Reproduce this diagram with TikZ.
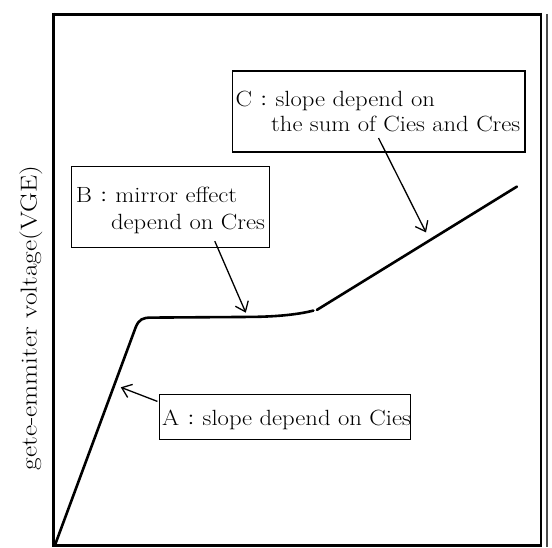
\documentclass[tikz,border=0pt]{standalone}
\usepackage{fontspec}
\newfontfamily\cjk{Noto Sans CJK JP}
\usetikzlibrary{arrows.meta}
\newcommand{\fwc}{\makebox[0.95em][c]{\cjk\fontsize{15}{15}\selectfont ：}}
\newcommand{\wtext}[1]{\scalebox{1.12}[1]{#1}}
\tikzset{
  txt/.style={anchor=base west, inner sep=0pt, font=\fontsize{22}{24}\selectfont},
  curve/.style={line width=2.6pt, line cap=round},
  pointer/.style={line width=1.3pt, -{Straight Barb[length=9pt,width=14pt,line width=1.3pt]}},
}
\begin{document}
\begin{tikzpicture}[x=1pt,y=-1pt]
\useasboundingbox (0,0) rectangle (552,547);
% frame
\draw[line width=3pt] (53,14) -- (541.5,14);
\draw[line width=3.5pt] (53.5,12.5) -- (53.5,546);
\draw[line width=3pt] (52,545.5) -- (541.5,545.5);
\draw[line width=2.5pt] (541,12.5) -- (541,547);
\draw[line width=1.2pt, black!70] (547,14) -- (547,547);
% boxes
\draw[line width=1.3pt] (71.8,166.5) rectangle (269.7,247.5);
\draw[line width=1.3pt] (232.7,71.1) rectangle (525,152.1);
\draw[line width=1.3pt] (159.5,394.4) rectangle (410.2,439.4);
\coordinate (bA) at (157.4,401.4);
\coordinate (bB) at (214.8,241.2);
\coordinate (bC) at (378.5,138);
% texts
\node[txt] (tB1) at (75.7,202) {\wtext{B\fwc mirror effect}};
\node[txt] (tB2) at (110.9,229) {\wtext{depend on Cres}};
\node[txt] (tC1) at (235.5,106) {\wtext{C\fwc slope depend on}};
\node[txt] (tC2) at (271,131) {\wtext{the sum of Cies and Cres}};
\node[txt] (tA) at (162,425) {\wtext{A\fwc slope depend on Cies}};
\node[rotate=90, inner sep=0pt, font=\fontsize{23}{26}\selectfont] (ylab) at (31,318) {\scalebox{1.19}[1]{gete-emmiter voltage(VGE)}};
% curve
\coordinate (p0) at (55,545);
\coordinate (p1) at (135.6,327.5);
\coordinate (p2) at (151.4,317.6);
\coordinate (p3) at (251.8,316.9);
\coordinate (p4) at (313.4,310.6);
\coordinate (p5) at (316.9,309.9);
\coordinate (p6) at (516.9,186.6);
\draw[curve] (p0) -- (p1) .. controls (139,319) and (143,317.6) .. (p2) -- (p3) .. controls (280,316.6) and (300,314) .. (p4);
\draw[curve] (p5) -- (p6);
% pointers
\coordinate (tipA) at (120.8,387.3);
\coordinate (tipB) at (245.8,312.7);
\coordinate (tipC) at (426,232.4);
\draw[pointer] (bA) -- (tipA);
\draw[pointer] (bB) -- (tipB);
\draw[pointer] (bC) -- (tipC);
\end{tikzpicture}
\end{document}
